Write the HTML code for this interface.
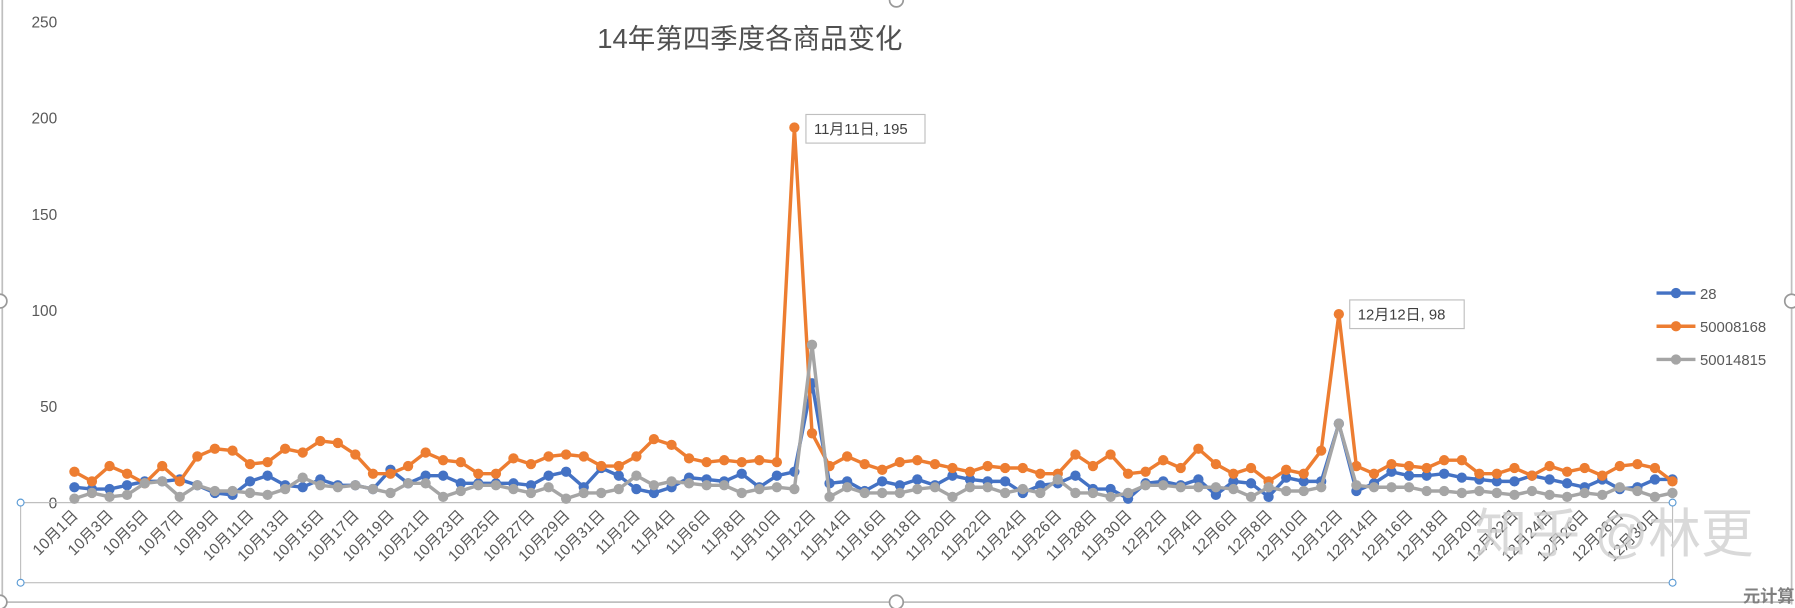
<!DOCTYPE html>
<html><head><meta charset="utf-8">
<style>
html,body{margin:0;padding:0;background:#fff;}
svg{display:block;}
</style></head><body>
<svg id="c" width="1795" height="608" xmlns="http://www.w3.org/2000/svg" font-family="Liberation Sans, Noto Sans CJK SC, sans-serif">
<rect x="0" y="0" width="1795" height="608" fill="#fff"/>
<g transform="scale(1.1448)">
<line x1="2" y1="0" x2="2" y2="528" stroke="#bfbfbf" stroke-width="1.5"/>
<line x1="1565" y1="0" x2="1565" y2="528" stroke="#bfbfbf" stroke-width="1.5"/>
<line x1="0" y1="526" x2="1565" y2="526" stroke="#bfbfbf" stroke-width="1.5"/>
<text x="655" y="42" text-anchor="middle" font-size="24" fill="#505050">14年第四季度各商品变化</text>
<g id="g"></g>
<text x="1410" y="482" text-anchor="middle" font-size="46" fill="#d0d0d0" opacity="0.8">知乎 @林更</text>
<text x="1545" y="526" text-anchor="middle" font-size="15" font-weight="bold" fill="#808080">元计算</text>
</g>
</svg>
<script>
var O=[16,11,19,15,10,19,11,24,28,27,20,21,28,26,32,31,25,15,15,19,26,22,21,15,15,23,20,24,25,24,19,
19,24,33,30,23,21,22,21,22,21,195,36,19,24,20,17,21,22,20,18,16,19,18,18,15,15,25,19,25,15,
16,22,18,28,20,15,18,11,17,15,27,98,19,15,20,19,18,22,22,15,15,18,14,19,16,18,14,19,20,18,11];
var B=[8,7,7,9,11,11,12,9,5,4,11,14,9,8,12,9,9,7,17,10,14,14,10,10,10,10,9,14,16,8,18,
14,7,5,8,13,12,11,15,8,14,16,62,10,11,6,11,9,12,9,14,12,11,11,5,9,10,14,7,7,2,
10,11,9,12,4,11,10,3,13,11,11,41,6,10,16,14,14,15,13,12,11,11,14,12,10,8,12,7,8,12,12];
var G=[2,5,3,4,10,11,3,9,6,6,5,4,7,13,9,8,9,7,5,10,10,3,6,9,9,7,5,8,2,5,5,
7,14,9,11,10,9,9,5,7,8,7,82,3,8,5,5,5,7,8,3,8,8,5,7,5,12,5,5,3,5,
9,9,8,8,8,7,3,8,6,6,8,41,9,8,8,8,6,6,5,6,5,4,6,4,3,5,4,8,6,3,5];
var X=function(i){return 65+i*15.34;},Y=function(v){return 439-v*1.68;};
var s='';
[250,200,150,100,50,0].forEach(function(v){s+='<text x="50" y="'+(Y(v)+5)+'" text-anchor="end" font-size="13.5" fill="#595959">'+v+'</text>';});
s+='<line x1="18" y1="439" x2="1461" y2="439" stroke="#bfbfbf" stroke-width="1"/>';
s+='<rect x="18" y="439" width="1443" height="70" fill="none" stroke="#bfbfbf" stroke-width="1"/>';
[[18,439],[18,509],[1461,439],[1461,509]].forEach(function(p){s+='<circle cx="'+p[0]+'" cy="'+p[1]+'" r="3" fill="#fff" stroke="#5b9bd5"/>';});
[[0,263],[783,0],[1565,263],[783,526],[0,526]].forEach(function(p){s+='<circle cx="'+p[0]+'" cy="'+p[1]+'" r="6" fill="#fff" stroke="#999" stroke-width="1.5"/>';});
var d=[];for(var m=10;m<=12;m++){var n=m==10?31:m==11?30:31;for(var k=1;k<=n;k++)d.push(m+'月'+k+'日');}
for(var i=0;i<92;i+=2){var x=X(i)+4,y=451;s+='<text x="'+x+'" y="'+y+'" text-anchor="end" font-size="13.5" fill="#595959" transform="rotate(-45 '+x+' '+y+')">'+d[i]+'</text>';}
function ser(a,c){var p=a.map(function(v,i){return X(i).toFixed(1)+','+Y(v).toFixed(1);}).join(' ');
var r='<polyline points="'+p+'" fill="none" stroke="'+c+'" stroke-width="3" stroke-linejoin="round"/>';
a.forEach(function(v,i){r+='<circle cx="'+X(i).toFixed(1)+'" cy="'+Y(v).toFixed(1)+'" r="4.5" fill="'+c+'"/>';});return r;}
s+=ser(B,'#4472C4')+ser(O,'#ED7D31')+ser(G,'#A5A5A5');
function lab(x,y,w,t){return '<rect x="'+x+'" y="'+y+'" width="'+w+'" height="25" fill="#fff" stroke="#bfbfbf"/><text x="'+(x+7)+'" y="'+(y+17)+'" font-size="13" fill="#404040">'+t+'</text>';}
s+=lab(704,100,104,'11月11日, 195')+lab(1179,262,100,'12月12日, 98');
[['28','#4472C4',256],['50008168','#ED7D31',285],['50014815','#A5A5A5',314]].forEach(function(l){
s+='<line x1="1447" y1="'+l[2]+'" x2="1481" y2="'+l[2]+'" stroke="'+l[1]+'" stroke-width="3"/><circle cx="1464" cy="'+l[2]+'" r="4.5" fill="'+l[1]+'"/><text x="1485" y="'+(l[2]+5)+'" font-size="13" fill="#595959">'+l[0]+'</text>';});
document.getElementById('g').innerHTML=s;
</script>
</body></html>
